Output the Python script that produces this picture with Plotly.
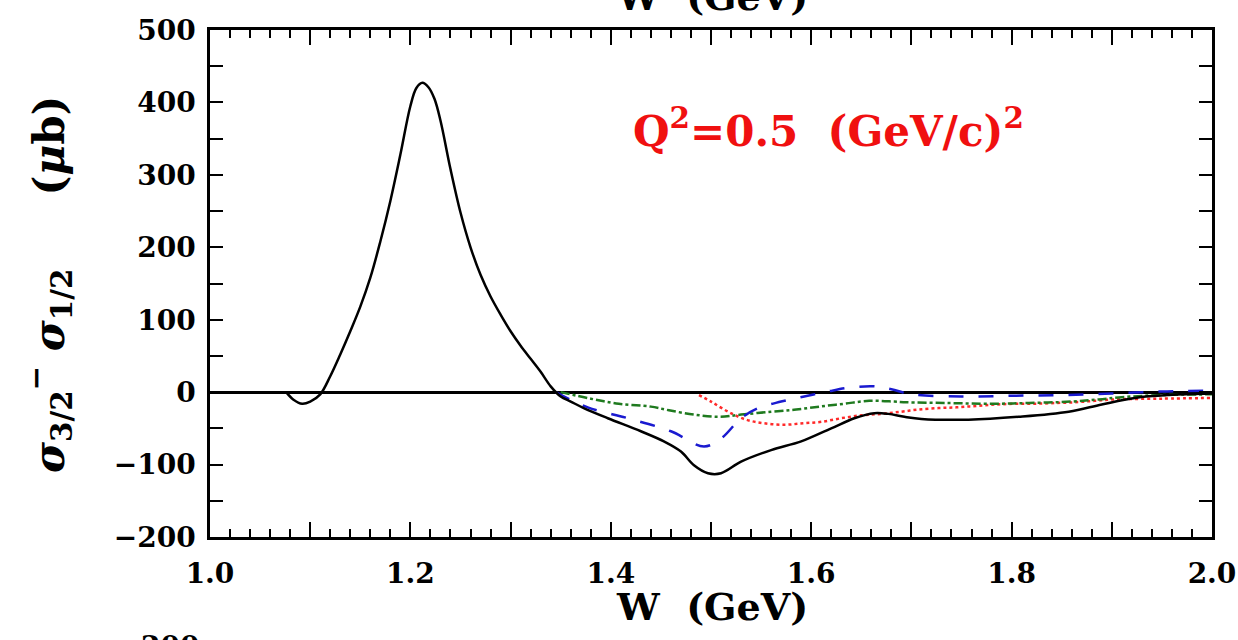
import plotly.graph_objects as go

# ---- data ----
w_black = [1.076, 1.083, 1.092, 1.100, 1.110, 1.120, 1.130, 1.140, 1.150, 1.160, 1.170, 1.180,
           1.190, 1.200, 1.206, 1.212, 1.218, 1.224, 1.230, 1.240, 1.250, 1.260, 1.270, 1.280,
           1.290, 1.300, 1.310, 1.320, 1.330, 1.340, 1.350, 1.360, 1.373, 1.397, 1.430, 1.453,
           1.470, 1.483, 1.497, 1.510, 1.530, 1.560, 1.590, 1.620, 1.643, 1.663, 1.677, 1.693,
           1.710, 1.757, 1.807, 1.857, 1.890, 1.923, 1.957, 2.000]
s_black = [0, -10, -16, -13, -3, 22, 52, 84, 118, 158, 208, 264,
           328, 395, 420, 427, 421, 405, 375, 308, 248, 200, 162, 132,
           107, 84, 64, 46, 28, 8, -6, -13, -22, -36, -54, -68,
           -82, -101, -112, -112, -96, -80, -68, -50, -36, -29, -30, -34,
           -37, -38, -34, -27, -17, -8, -4, -2]

w_blue = [1.345, 1.377, 1.417, 1.460, 1.493, 1.510, 1.530, 1.547, 1.570, 1.593, 1.617, 1.637,
          1.663, 1.680, 1.700, 1.750, 1.800, 1.850, 1.900, 1.950, 2.000]
s_blue = [0, -21, -36, -54, -75, -64, -36, -22, -13, -6, 1, 6,
          8, 4, -3, -6, -5, -4, -2, 1, 2]

w_green = [1.350, 1.380, 1.408, 1.440, 1.458, 1.483, 1.508, 1.530, 1.560, 1.585, 1.608, 1.633,
           1.658, 1.683, 1.695, 1.733, 1.783, 1.817, 1.860, 1.887, 1.910, 1.950, 2.000]
s_green = [0, -9, -16, -20, -25, -31, -34, -31, -27, -24, -20, -16,
           -12, -13, -14, -15, -16, -15, -13, -10, -7, -4, -3]

w_red = [1.488, 1.500, 1.517, 1.535, 1.553, 1.573, 1.592, 1.610, 1.630, 1.650, 1.670, 1.690,
         1.707, 1.727, 1.745, 1.765, 1.785, 1.805, 1.823, 1.843, 1.863, 1.883, 1.903, 1.950, 2.000]
s_red = [-4, -13, -27, -38, -43, -45, -43, -41, -36, -32, -30, -27,
         -24, -22, -21, -19, -17, -16, -16, -15, -14, -12, -10, -9, -8]

x_major_ticks = [1.0, 1.1, 1.2, 1.3, 1.4, 1.5, 1.6, 1.7, 1.8, 1.9, 2.0]

FONT = "DejaVu Serif"
TICKFONT = dict(family=FONT, size=28, color="black", weight="bold")

W, H = 1238, 640
L, R, T, B = 210, 26, 30, 103
PW, PH = W - L - R, H - T - B


def px(xs):
    return (xs - L) / PW


def py(ys):
    return (H - B - ys) / PH


fig = go.Figure()
fig.add_trace(go.Scatter(x=w_red, y=s_red, mode="lines",
                         line=dict(color="#ff2a2a", width=2.5, dash="dot", shape="spline")))
fig.add_trace(go.Scatter(x=w_green, y=s_green, mode="lines",
                         line=dict(color="#1f7a1f", width=2.5, dash="dashdot", shape="spline")))
fig.add_trace(go.Scatter(x=w_blue, y=s_blue, mode="lines",
                         line=dict(color="#1a1ad0", width=2.5, dash="longdash", shape="spline")))
fig.add_trace(go.Scatter(x=w_black, y=s_black, mode="lines", xaxis="x2",
                         line=dict(color="black", width=2.5, shape="spline")))

fig.update_layout(
    width=W, height=H,
    margin=dict(l=L, r=R, t=T, b=B),
    paper_bgcolor="white", plot_bgcolor="white",
    showlegend=False,
    xaxis=dict(range=[1.0, 2.0], dtick=0.2, tick0=1.0, tickformat=".1f",
               ticks="inside", ticklen=15, tickwidth=2, tickcolor="black",
               minor=dict(dtick=0.02, tick0=1.0, ticks="inside", ticklen=8, tickwidth=2, tickcolor="black"),
               showline=True, linecolor="black", linewidth=2.5, mirror="allticks",
               showgrid=False, zeroline=False, automargin=False,
               tickfont=TICKFONT, ticklabelstandoff=10),
    xaxis2=dict(matches="x", overlaying="x", anchor="y", side="bottom",
                tickmode="array", tickvals=x_major_ticks, showticklabels=False,
                ticks="inside", ticklen=15, tickwidth=2, tickcolor="black",
                showline=False, mirror="allticks", showgrid=False, zeroline=False, automargin=False),
    yaxis=dict(range=[-200, 500], dtick=100,
               ticks="inside", ticklen=13, tickwidth=2, tickcolor="black",
               minor=dict(dtick=50, ticks="inside", ticklen=13, tickwidth=2, tickcolor="black"),
               showline=True, linecolor="black", linewidth=2.5, mirror="allticks",
               showgrid=False, zeroline=True, zerolinecolor="black", zerolinewidth=2.5,
               automargin=False, tickfont=TICKFONT, ticklabelstandoff=6),
)

fig.add_annotation(text="<i>σ</i><sub>3/2</sub><sup>−</sup>&nbsp;<i>σ</i><sub>1/2</sub>"
                        "&nbsp;&nbsp;&nbsp;&nbsp;&nbsp;(<i>μ</i>b)",
                   textangle=-90, xref="paper", yref="paper", x=px(48), y=py(285),
                   xanchor="center", yanchor="middle",
                   showarrow=False, font=dict(family=FONT, size=42, color="black", weight="bold"))
fig.add_annotation(text="Q<sup>2</sup>=0.5&nbsp;&nbsp;(GeV/c)<sup>2</sup>",
                   xref="paper", yref="paper", x=px(828), y=py(128),
                   xanchor="center", yanchor="middle",
                   showarrow=False, font=dict(family=FONT, size=42, color="#f01010", weight="bold"))
fig.add_annotation(text="W&nbsp;&nbsp;(GeV)", xref="paper", yref="paper", x=px(712), y=py(606),
                   xanchor="center", yanchor="middle", showarrow=False,
                   font=dict(family=FONT, size=38, color="black", weight="bold"))
# partially visible labels from neighbouring panels
fig.add_annotation(text="W&nbsp;&nbsp;(GeV)", xref="paper", yref="paper", x=px(712), y=py(-4),
                   xanchor="center", yanchor="middle", showarrow=False,
                   font=dict(family=FONT, size=38, color="black", weight="bold"))
fig.add_annotation(text="200", xref="paper", yref="paper", x=px(170), y=py(646),
                   xanchor="center", yanchor="middle", showarrow=False,
                   font=dict(family=FONT, size=28, color="black", weight="bold"))

fig.write_html("out.html", config={"displayModeBar": False},
               post_script="document.body.style.margin='0';document.body.style.overflow='hidden';")
